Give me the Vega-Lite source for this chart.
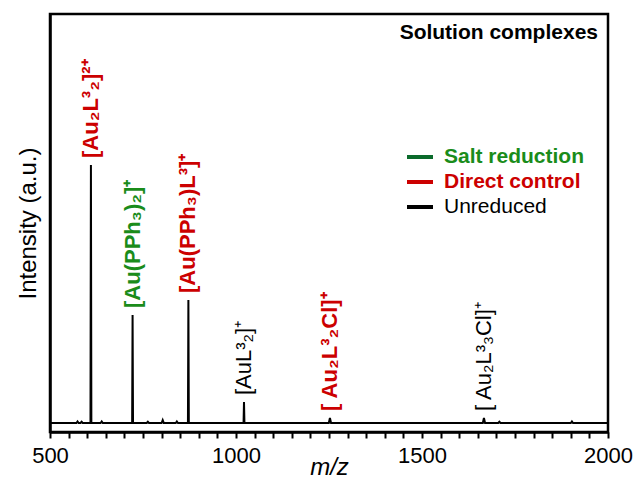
{
  "$schema": "https://vega.github.io/schema/vega-lite/v6.json",
  "width": 558,
  "height": 418,
  "autosize": {"type": "none"},
  "padding": {"left": 50, "top": 14, "right": 27, "bottom": 52},
  "background": "white",
  "title": {
    "text": "Solution complexes",
    "orient": "top",
    "anchor": "end",
    "frame": "group",
    "offset": -29,
    "dx": -10,
    "font": "Liberation Sans",
    "fontSize": 21,
    "fontWeight": "bold",
    "color": "black"
  },
  "config": {
    "view": {"stroke": "black", "strokeWidth": 2.5},
    "font": "Liberation Sans",
    "axisX": {
      "labelFlush": false,
      "labelOverlap": false,
      "labelFont": "Liberation Sans",
      "labelFontSize": 22,
      "labelColor": "black",
      "labelPadding": 7,
      "ticks": true,
      "tickSize": 6,
      "tickWidth": 2,
      "tickColor": "black",
      "domainColor": "black",
      "domainWidth": 2.5,
      "grid": false,
      "titleFont": "Liberation Sans",
      "titleFontSize": 24,
      "titleFontWeight": "normal",
      "titleFontStyle": "italic",
      "titleColor": "black",
      "titlePadding": -11
    },
    "axisY": {
      "labels": false,
      "ticks": false,
      "grid": false,
      "domainColor": "black",
      "domainWidth": 2.5,
      "titleFont": "Liberation Sans",
      "titleFontSize": 24,
      "titleFontWeight": "normal",
      "titleColor": "black",
      "titlePadding": 10
    }
  },
  "datasets": {
    "spectrum": [
      {"mz": 500, "intensity": 0},
      {"mz": 571, "intensity": 0}, {"mz": 574, "intensity": 1.5}, {"mz": 577, "intensity": 0},
      {"mz": 582, "intensity": 0}, {"mz": 585, "intensity": 1.2}, {"mz": 588, "intensity": 0},
      {"mz": 608.8, "intensity": 0}, {"mz": 610, "intensity": 258}, {"mz": 611.2, "intensity": 0},
      {"mz": 636, "intensity": 0}, {"mz": 639, "intensity": 1.5}, {"mz": 642, "intensity": 0},
      {"mz": 720.8, "intensity": 0}, {"mz": 722, "intensity": 108}, {"mz": 723.2, "intensity": 0},
      {"mz": 760, "intensity": 0}, {"mz": 763, "intensity": 1.2}, {"mz": 766, "intensity": 0},
      {"mz": 800, "intensity": 0}, {"mz": 803, "intensity": 3}, {"mz": 806, "intensity": 0},
      {"mz": 838, "intensity": 0}, {"mz": 841, "intensity": 1.5}, {"mz": 844, "intensity": 0},
      {"mz": 870.8, "intensity": 0}, {"mz": 872, "intensity": 123}, {"mz": 873.2, "intensity": 0},
      {"mz": 1020.3, "intensity": 0}, {"mz": 1021.5, "intensity": 21}, {"mz": 1022.7, "intensity": 0},
      {"mz": 1249.5, "intensity": 0}, {"mz": 1252.5, "intensity": 5}, {"mz": 1255.5, "intensity": 0},
      {"mz": 1663.5, "intensity": 0}, {"mz": 1666.5, "intensity": 5}, {"mz": 1669.5, "intensity": 0},
      {"mz": 1705, "intensity": 0}, {"mz": 1708, "intensity": 1.2}, {"mz": 1711, "intensity": 0},
      {"mz": 1900, "intensity": 0}, {"mz": 1903, "intensity": 1.5}, {"mz": 1906, "intensity": 0},
      {"mz": 2000, "intensity": 0}
    ],
    "labels": [
      {"mz": 610, "intensity": 258, "label": "[Au₂L³₂]²⁺", "group": "Direct control"},
      {"mz": 722, "intensity": 108, "label": "[Au(PPh₃)₂]⁺", "group": "Salt reduction"},
      {"mz": 872, "intensity": 123, "label": "[Au(PPh₃)L³]⁺", "group": "Direct control"},
      {"mz": 1021.5, "intensity": 21, "label": "[AuL³₂]⁺", "group": "Unreduced"},
      {"mz": 1252.5, "intensity": 5, "label": "[ Au₂L³₂Cl]⁺", "group": "Direct control"},
      {"mz": 1666.5, "intensity": 5, "label": "[ Au₂L³₃Cl]⁺", "group": "Unreduced"}
    ]
  },
  "encoding": {
    "x": {
      "field": "mz", "type": "quantitative",
      "scale": {"domain": [500, 2000], "nice": false, "zero": false},
      "axis": {
        "values": [500,550,600,650,700,750,800,850,900,950,1000,1050,1100,1150,1200,1250,1300,1350,1400,1450,1500,1550,1600,1650,1700,1750,1800,1850,1900,1950,2000],
        "format": "d",
        "labelExpr": "datum.value % 500 === 0 ? datum.label : ''",
        "labelOverlap": false,
        "labelFlush": false,
        "ticks": true,
        "tickColor": "black",
        "tickWidth": 2,
        "tickSize": 6,
        "title": "m/z"
      }
    },
    "y": {
      "field": "intensity", "type": "quantitative",
      "scale": {"domain": [-9, 409], "nice": false, "zero": false},
      "axis": {"title": "Intensity (a.u.)", "labels": false, "ticks": false}
    }
  },
  "layer": [
    {
      "data": {"name": "spectrum"},
      "mark": {"type": "line", "color": "black", "strokeWidth": 2, "interpolate": "linear"}
    },
    {
      "data": {"name": "labels"},
      "transform": [{"filter": "datum.group !== 'Unreduced'"}],
      "mark": {"type": "text", "angle": 270, "align": "left", "baseline": "middle", "dx": 7, "font": "Liberation Sans", "fontSize": 22, "fontWeight": "bold"},
      "encoding": {
        "text": {"field": "label"},
        "color": {
          "field": "group", "type": "nominal",
          "scale": {"domain": ["Salt reduction", "Direct control", "Unreduced"], "range": ["#1a8c1a", "#cc0000", "#000000"]},
          "legend": {
            "orient": "none",
            "legendX": 355,
            "legendY": 128,
            "title": null,
            "padding": 0,
            "symbolType": "stroke",
            "symbolSize": 676,
            "symbolStrokeWidth": 4,
            "rowPadding": -1,
            "labelOffset": 9,
            "labelFont": "Liberation Sans",
            "labelFontSize": 21,
            "encode": {
              "symbols": {"update": {
                "stroke": {"signal": "datum.value === 'Salt reduction' ? '#0b6b2b' : (datum.value === 'Direct control' ? '#cc0000' : '#000000')"},
                "strokeWidth": {"value": 4},
                "opacity": {"value": 1}
              }},
              "labels": {"update": {
                "fill": {"signal": "datum.value === 'Salt reduction' ? '#1a8c1a' : (datum.value === 'Direct control' ? '#cc0000' : '#000000')"},
                "fontWeight": {"signal": "datum.value === 'Unreduced' ? 'normal' : 'bold'"}
              }}
            }
          }
        }
      }
    },
    {
      "data": {"name": "labels"},
      "transform": [{"filter": "datum.group === 'Unreduced'"}],
      "mark": {"type": "text", "angle": 270, "align": "left", "baseline": "middle", "dx": 7, "font": "Liberation Sans", "fontSize": 22, "fontWeight": "normal"},
      "encoding": {
        "text": {"field": "label"},
        "color": {"field": "group", "type": "nominal"}
      }
    }
  ]
}
